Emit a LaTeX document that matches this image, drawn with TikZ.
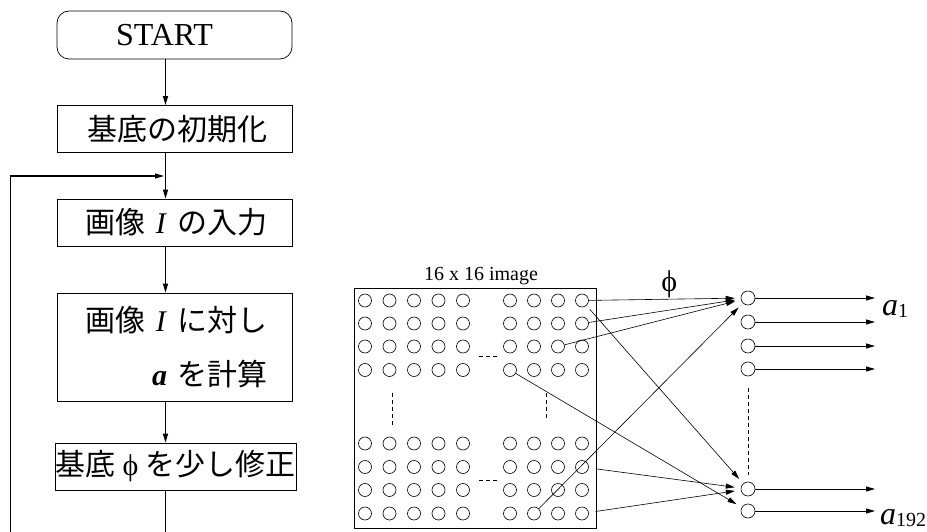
\documentclass[tikz,border=0pt]{standalone}
\usepackage{fontspec}
\setmainfont{Liberation Serif}
\newfontfamily\jpfont{Noto Sans CJK JP}
\newcommand{\jp}[1]{{\jpfont #1}}
\usetikzlibrary{arrows.meta,positioning}

\begin{document}
\begin{tikzpicture}[
        x=1pt, y=-1pt,
        >={Triangle[length=9pt,width=5pt]},
        flowbox/.style={draw, line width=0.7pt, minimum width=235pt, minimum height=47pt,
            text width=185pt, inner xsep=25pt, align=right, font=\fontsize{30}{54}\selectfont},
        startbox/.style={flowbox, rounded corners=12pt, minimum height=48pt, align=center,
            font=\fontsize{32}{36}\selectfont},
        flow/.style={line width=1.3pt},
        pixel/.style={circle, draw, line width=0.6pt, minimum size=13pt, inner sep=0pt},
        unit/.style={circle, draw, line width=0.6pt, minimum size=14pt, inner sep=0pt},
        link/.style={->, line width=0.6pt, shorten >=6pt},
        dots/.style={dash pattern=on 4pt off 3pt, line width=0.6pt}
    ]
        \useasboundingbox (0,0) rectangle (927,532);

        % フローチャート
        \node [startbox] (start) at (174.5,35) {\hspace*{-20pt}START};
        \node [flowbox] (init) at (174.5,129) {\jp{基底の初期化}};
        \node [flowbox] (input) at (174.5,222.5) {\jp{画像} \textit{I} \jp{の入力}};
        \node [flowbox, minimum height=108pt] (calc) at (174.5,347)
            {\jp{画像} \textit{I} \jp{に対し}\\ \textbf{\textit{a}} \jp{を計算}};
        \node [flowbox, text width={}, inner xsep=0pt, align=center] (update) at (175.5,466.5)
            {\jp{基底} ϕ \jp{を少し修正}};

        \coordinate (spine) at (165.5,0);
        \coordinate (join) at (165.5,176);
        \coordinate (back) at (10.5,534);
        \draw[flow, ->] (start.south -| spine) -- (init.north -| spine);
        \draw[flow, ->] (init.south -| spine) -- (input.north -| spine);
        \draw[flow, ->] (input.south -| spine) -- (calc.north -| spine);
        \draw[flow, ->] (calc.south -| spine) -- (update.north -| spine);
        \draw[flow] (update.south -| spine) -- (spine |- back);
        \draw[flow, ->, shorten >=1.5pt] (back) |- (join);

        % 画像と基底
        \node [draw, line width=0.8pt, minimum width=242pt, minimum height=240pt] (img) at (475,408) {};
        \node [font=\fontsize{20}{24}\selectfont, anchor=base] (title) at (481,280) {16 x 16 image};

        \foreach \y [count=\r] in {300.5,323.5,346.5,370,443.5,467,490,513.5}
            \foreach \x [count=\c] in {365,389.5,414,438.5,463,510,534,558,582}
                \node [pixel] (p-\r-\c) at (\x,\y) {};

        \foreach \y [count=\k] in {298,322,346,369,489,511} {
            \node [unit] (u-\k) at (748,\y) {};
            \coordinate (out-\k) at (875,\y);
            \draw[->, line width=0.8pt] (u-\k) -- (out-\k);
        }

        \draw[dots] (479,356) -- (499,356);
        \draw[dots] (479,480) -- (499,480);
        \draw[dots] (392,393) -- (392,427);
        \draw[dots] (546,393) -- (546,420);
        \draw[dots] (748,388) -- (748,475);

        % 基底 ϕ の結合
        \draw[link] (p-1-9) -- node[above, pos=.53, inner sep=1pt, font=\fontsize{30}{30}\selectfont] (phi) {ϕ} (u-1);
        \draw[link] (p-2-9) -- (u-1);
        \draw[link] (p-3-8) -- (u-1);
        \draw[link] (p-8-7) -- (u-1);
        \draw[link, shorten <=5pt] (p-1-9) -- (u-5);
        \draw[link] (p-4-6) -- (u-6);
        \draw[link, shorten <=7pt] (p-6-9) -- (u-5);
        \draw[link, shorten <=7pt] (p-8-9) -- (u-5);

        \node [anchor=base west, inner sep=0pt, font=\fontsize{32}{32}\selectfont] (a1) at (882,315)
            {\textit{a}\raisebox{-2pt}{\fontsize{20}{20}\selectfont 1}};
        \node [anchor=base west, inner sep=0pt, font=\fontsize{32}{32}\selectfont] (a192) at (880,524)
            {\textit{a}\raisebox{-2pt}{\fontsize{20}{20}\selectfont 192}};
    \end{tikzpicture}
\end{document}
